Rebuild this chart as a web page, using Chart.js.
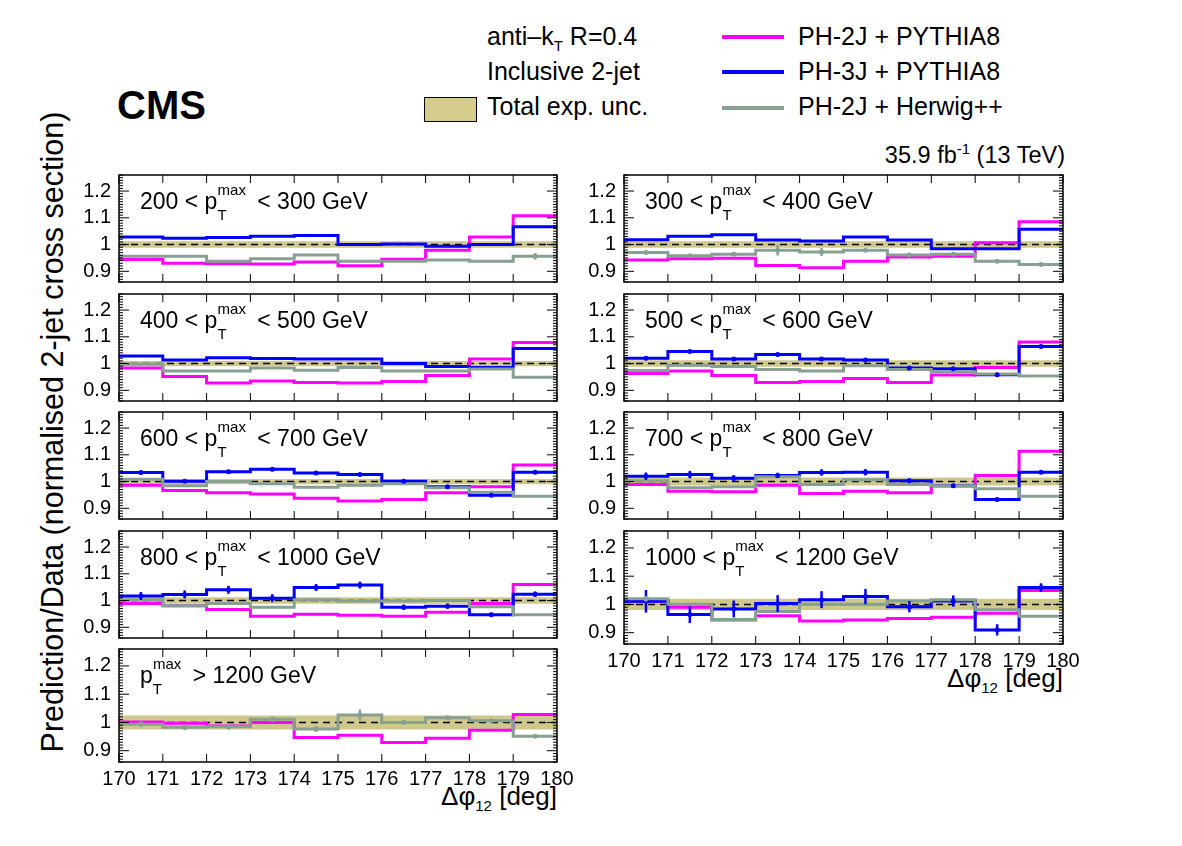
<!DOCTYPE html>
<html>
<head>
<meta charset="utf-8">
<script src="https://cdn.jsdelivr.net/npm/chart.js@4/dist/chart.umd.min.js"></script>
<style>
  body { margin: 0; background: #fff; width: 1182px; height: 846px; position: relative; overflow: hidden;
         font-family: 'Liberation Sans', Arial, sans-serif; color: #000; }
  .abs { position: absolute; white-space: nowrap; }
  .panel { position: absolute; }
  .lbl { font-size: 23px; line-height: 23px; }
  .lbl .dn { font-size: 15px; line-height: 15px; position: relative; top: 11px; }
  .lbl .up { font-size: 15px; line-height: 15px; position: relative; top: -14px; margin-left: -9px; margin-right: 5px; }
  .leg { font-size: 25px; line-height: 25px; }
  .swatch { position: absolute; height: 4px; width: 62px; }
  sub.s, sup.s { font-size: 15px; line-height: 0; }
</style>
</head>
<body>

<div class="abs" style="left:117px; top:85px; font-size:40px; font-weight:bold; line-height:40px;">CMS</div>

<div class="abs leg" style="left:487px; top:24px;">anti–k<sub class="s">T</sub> R=0.4</div>
<div class="abs leg" style="left:487px; top:59px;">Inclusive 2-jet</div>
<div class="abs" style="left:424px; top:97px; width:51px; height:23px; background:#d4cd8c; border:1.5px solid #000;"></div>
<div class="abs leg" style="left:487px; top:94px;">Total exp. unc.</div>

<div class="swatch" style="left:722px; top:35px; background:#ff00ff;"></div>
<div class="swatch" style="left:722px; top:70px; background:#0000ff;"></div>
<div class="swatch" style="left:722px; top:106px; background:#87a092;"></div>
<div class="abs leg" style="left:798px; top:24px;">PH-2J + PYTHIA8</div>
<div class="abs leg" style="left:798px; top:59px;">PH-3J + PYTHIA8</div>
<div class="abs leg" style="left:798px; top:94px;">PH-2J + Herwig++</div>

<div class="abs" style="right:117px; top:143px; font-size:23.5px; line-height:24px;">35.9 fb<sup class="s">-1</sup> (13 TeV)</div>

<div class="abs" style="left:-298px; top:416px; width:700px; text-align:center; font-size:30.5px; line-height:32px; transform:rotate(-90deg);">Prediction/Data (normalised 2-jet cross section)</div>

<div class="abs" style="right:625px; top:783px; font-size:26px; line-height:26px;">Δφ<sub class="s">12</sub> [deg]</div>
<div class="abs" style="right:119px; top:665px; font-size:26px; line-height:26px;">Δφ<sub class="s">12</sub> [deg]</div>

<div id="root"></div>

<script>
// bin edges of delta phi_12 (deg) and axis ticks
const BIN_EDGES = [170, 171, 172, 173, 174, 175, 176, 177, 178, 179, 180];
const X_TICKS = [170, 171, 172, 173, 174, 175, 176, 177, 178, 179, 180];
const Y_TICKS = [0.9, 1, 1.1, 1.2];
const Y_MIN = 0.86, Y_MAX = 1.26;

// pT max bins, one panel each: [low, high] (high null = open)
const PT_LOW  = [200, 300, 400, 500, 600, 700, 800, 1000, 1200];
const PT_HIGH = [300, 400, 500, 600, 700, 800, 1000, 1200, null];

// Prediction / Data, 10 bins per panel
const PH2J_PY8 = [
  [0.944, 0.930, 0.928, 0.927, 0.935, 0.921, 0.945, 0.979, 1.028, 1.108],
  [0.942, 0.947, 0.949, 0.922, 0.913, 0.938, 0.953, 0.956, 1.007, 1.085],
  [0.983, 0.952, 0.927, 0.935, 0.929, 0.927, 0.933, 0.955, 1.017, 1.079],
  [0.963, 0.972, 0.955, 0.929, 0.933, 0.944, 0.929, 0.957, 0.985, 1.081],
  [0.986, 0.967, 0.958, 0.953, 0.938, 0.927, 0.933, 0.958, 0.981, 1.062],
  [0.989, 0.964, 0.962, 0.986, 0.955, 0.964, 0.958, 0.984, 1.023, 1.113],
  [0.989, 0.981, 0.967, 0.941, 0.949, 0.945, 0.941, 0.956, 0.989, 1.060],
  [1.011, 0.990, 0.945, 0.960, 0.941, 0.945, 0.950, 0.955, 0.969, 1.049],
  [1.002, 0.997, 0.987, 1.000, 0.947, 0.955, 0.929, 0.944, 0.972, 1.028],
];
const PH3J_PY8 = [
  [1.028, 1.024, 1.026, 1.031, 1.034, 1.000, 1.002, 0.994, 1.000, 1.067],
  [1.018, 1.031, 1.037, 1.017, 1.013, 1.028, 1.017, 0.984, 0.984, 1.057],
  [1.028, 1.013, 1.022, 1.019, 1.017, 1.017, 1.000, 0.989, 0.985, 1.056],
  [1.020, 1.045, 1.017, 1.034, 1.017, 1.013, 0.983, 0.981, 0.958, 1.064],
  [1.034, 1.001, 1.037, 1.046, 1.032, 1.026, 1.001, 0.981, 0.949, 1.035],
  [1.020, 1.026, 1.012, 1.023, 1.034, 1.035, 1.003, 0.984, 0.933, 1.035],
  [1.017, 1.023, 1.040, 1.009, 1.049, 1.058, 0.975, 0.979, 0.947, 1.024],
  [1.011, 0.964, 0.984, 1.003, 1.017, 1.028, 0.992, 1.012, 0.910, 1.060],
  null,
];
const PH2J_HW = [
  [0.956, 0.956, 0.938, 0.947, 0.961, 0.938, 0.938, 0.942, 0.938, 0.956],
  [0.970, 0.958, 0.964, 0.979, 0.972, 0.979, 0.961, 0.964, 0.938, 0.925],
  [0.997, 0.972, 0.972, 0.983, 0.975, 0.985, 0.972, 0.972, 0.980, 0.949],
  [0.974, 0.994, 0.989, 0.978, 0.972, 0.992, 0.978, 0.969, 0.961, 0.953],
  [1.009, 0.984, 1.000, 0.992, 0.979, 0.986, 0.992, 0.977, 0.960, 0.945],
  [1.003, 0.977, 0.981, 1.018, 0.989, 1.007, 0.989, 0.984, 0.973, 0.945],
  [1.003, 0.981, 0.989, 0.975, 1.003, 0.998, 0.998, 1.000, 0.977, 0.947],
  [1.020, 1.001, 0.947, 0.975, 1.001, 1.001, 1.012, 1.017, 0.981, 0.958],
  [0.994, 0.983, 0.985, 1.011, 0.977, 1.026, 1.000, 1.017, 1.006, 0.951],
];

// statistical uncertainties of the predictions (0 = not shown)
const PH3J_ERR = [
  [0, 0, 0, 0, 0, 0, 0, 0, 0, 0],
  [0, 0, 0, 0, 0, 0, 0, 0, 0, 0],
  [0, 0, 0, 0, 0, 0, 0, 0, 0, 0],
  [0.004, 0.004, 0.003, 0.003, 0.003, 0.003, 0.003, 0.003, 0.003, 0.003],
  [0.007, 0.006, 0.007, 0.007, 0.006, 0.006, 0.005, 0.005, 0.005, 0.005],
  [0.014, 0.014, 0.012, 0.010, 0.012, 0.012, 0.008, 0.007, 0.007, 0.007],
  [0.015, 0.015, 0.015, 0.015, 0.013, 0.013, 0.010, 0.010, 0.008, 0.010],
  [0.040, 0.030, 0.030, 0.030, 0.030, 0.027, 0.020, 0.020, 0.020, 0.015],
  null,
];
const PH2J_HW_ERR = [
  [0, 0, 0, 0, 0, 0, 0, 0, 0, 0.012],
  [0.003, 0.004, 0.003, 0.020, 0.015, 0.004, 0.002, 0.002, 0.002, 0.002],
  [0, 0, 0, 0, 0, 0, 0, 0, 0, 0],
  [0, 0, 0, 0, 0, 0, 0, 0, 0, 0],
  [0, 0, 0, 0, 0, 0, 0, 0, 0, 0],
  [0, 0, 0, 0, 0, 0, 0, 0, 0, 0],
  [0, 0, 0, 0, 0, 0, 0, 0, 0, 0],
  [0.010, 0, 0, 0, 0, 0, 0, 0, 0, 0],
  [0.010, 0.010, 0.010, 0.010, 0.010, 0.020, 0.008, 0.006, 0.004, 0.002],
];

// half width of the total experimental uncertainty band per panel
const EXP_UNC = [0.012, 0.012, 0.010, 0.012, 0.010, 0.015, 0.012, 0.020, 0.025];

const C_PH2J = '#ff00ff';
const C_PH3J = '#0000ff';
const C_HW = '#87a092';
const C_BAND = '#cfc88c';
const FONT = "'Liberation Sans', Arial, sans-serif";

// --- layout ---
const COL_X = [119, 624];
const COL_W = [438, 439];
const ROW_TOP = [169, 288, 406, 525, 643];
const FRAME_H = 119;
const YW = 56, PT = 14, PB = 14, PR = 24, XH = 30;

function steps(vals) {
  return BIN_EDGES.map((e, i) => ({ x: e, y: vals[Math.min(i, vals.length - 1)] }));
}

const framePlugin = {
  id: 'frameTicks',
  afterDatasetsDraw(chart) {
    const { ctx, chartArea: a, scales: { x, y } } = chart;
    ctx.save();
    // error bars
    chart.data.datasets.forEach(ds => {
      if (!ds.errs) return;
      ctx.strokeStyle = ds.borderColor;
      ctx.fillStyle = ds.borderColor;
      ctx.lineWidth = 2.5;
      ds.errs.forEach((e, i) => {
        if (!e) return;
        const v = ds.vals[i];
        const cx = x.getPixelForValue((BIN_EDGES[i] + BIN_EDGES[i + 1]) / 2);
        ctx.beginPath();
        ctx.moveTo(cx, y.getPixelForValue(v - e));
        ctx.lineTo(cx, y.getPixelForValue(v + e));
        ctx.stroke();
        ctx.beginPath();
        ctx.arc(cx, y.getPixelForValue(v), 2.5, 0, Math.PI * 2);
        ctx.fill();
      });
    });
    // frame
    ctx.strokeStyle = '#000';
    ctx.lineWidth = 1.5;
    ctx.strokeRect(a.left, a.top, a.width, a.height);
    ctx.lineWidth = 1;
    ctx.beginPath();
    X_TICKS.forEach(v => {
      const px = x.getPixelForValue(v);
      ctx.moveTo(px, a.bottom); ctx.lineTo(px, a.bottom - 8);
      ctx.moveTo(px, a.top); ctx.lineTo(px, a.top + 8);
    });
    for (let k = 86; k <= 126; k++) {
      const py = y.getPixelForValue(k / 100);
      const len = k % 10 === 0 ? 10 : 4;
      ctx.moveTo(a.left, py); ctx.lineTo(a.left + len, py);
      ctx.moveTo(a.right, py); ctx.lineTo(a.right - len, py);
    }
    ctx.stroke();
    ctx.restore();
  }
};

function makePanel(p) {
  const col = p % 2;
  const row = Math.floor(p / 2);
  const bottom = (col === 0 && row === 4) || (col === 1 && row === 3);

  const w = YW + COL_W[col] + PR;
  const h = PT + FRAME_H + (bottom ? XH : PB);
  const div = document.createElement('div');
  div.className = 'panel';
  div.style.left = (COL_X[col] - YW) + 'px';
  div.style.top = (ROW_TOP[row] - PT) + 'px';
  div.style.width = w + 'px';
  div.style.height = h + 'px';
  const canvas = document.createElement('canvas');
  canvas.width = w;
  canvas.height = h;
  div.appendChild(canvas);
  document.getElementById('root').appendChild(div);

  // panel label
  const lab = document.createElement('div');
  lab.className = 'abs lbl';
  lab.style.left = (COL_X[col] + 21) + 'px';
  lab.style.top = (ROW_TOP[row] + 21) + 'px';
  const pt = 'p<span class="dn">T</span><span class="up">max</span>';
  lab.innerHTML = PT_HIGH[p] === null
    ? pt + ' &gt; ' + PT_LOW[p] + ' GeV'
    : PT_LOW[p] + ' &lt; ' + pt + ' &lt; ' + PT_HIGH[p] + ' GeV';
  document.body.appendChild(lab);

  const u = EXP_UNC[p];
  const datasets = [
    { label: 'band-up', data: steps(BIN_EDGES.map(() => 1 + u)), borderWidth: 0, pointRadius: 0, fill: false, order: 6 },
    { label: 'Total exp. unc.', data: steps(BIN_EDGES.map(() => 1 - u)), borderWidth: 0, pointRadius: 0,
      fill: '-1', backgroundColor: C_BAND, order: 5 },
    { label: 'one', data: [{ x: 170, y: 1 }, { x: 180, y: 1 }], borderColor: '#000', borderWidth: 1.5,
      borderDash: [7, 5], pointRadius: 0, order: 4 },
    { label: 'PH-2J + PYTHIA8', data: steps(PH2J_PY8[p]), vals: PH2J_PY8[p], borderColor: C_PH2J,
      borderWidth: 3, pointRadius: 0, stepped: 'before', order: 3 },
  ];
  if (PH3J_PY8[p]) {
    datasets.push({ label: 'PH-3J + PYTHIA8', data: steps(PH3J_PY8[p]), vals: PH3J_PY8[p], errs: PH3J_ERR[p],
      borderColor: C_PH3J, borderWidth: 3, pointRadius: 0, stepped: 'before', order: 2 });
  }
  datasets.push({ label: 'PH-2J + Herwig++', data: steps(PH2J_HW[p]), vals: PH2J_HW[p], errs: PH2J_HW_ERR[p],
    borderColor: C_HW, borderWidth: 3, pointRadius: 0, stepped: 'before', order: 1 });

  new Chart(canvas, {
    type: 'line',
    data: { datasets },
    options: {
      responsive: false,
      animation: false,
      devicePixelRatio: 1,
      events: [],
      layout: { padding: { top: PT, right: PR, bottom: bottom ? 0 : PB, left: 0 } },
      plugins: { legend: { display: false }, tooltip: { enabled: false } },
      scales: {
        x: {
          type: 'linear', min: 170, max: 180,
          afterBuildTicks: s => { s.ticks = X_TICKS.map(v => ({ value: v })); },
          afterFit: s => { s.height = bottom ? XH : 0; },
          grid: { display: false, drawTicks: false },
          border: { display: false },
          ticks: { display: bottom, color: '#000', padding: 5, maxRotation: 0, autoSkip: false,
                   font: { family: FONT, size: 20 } },
        },
        y: {
          type: 'linear', min: Y_MIN, max: Y_MAX,
          afterBuildTicks: s => { s.ticks = Y_TICKS.map(v => ({ value: v })); },
          afterFit: s => { s.width = YW; },
          grid: { display: false, drawTicks: false },
          border: { display: false },
          ticks: { color: '#000', padding: 8, font: { family: FONT, size: 20 },
                   callback: v => (v === 1 ? '1' : v.toFixed(1)) },
        },
      },
    },
    plugins: [framePlugin],
  });
}

for (let p = 0; p < PT_LOW.length; p++) makePanel(p);
</script>
</body>
</html>
